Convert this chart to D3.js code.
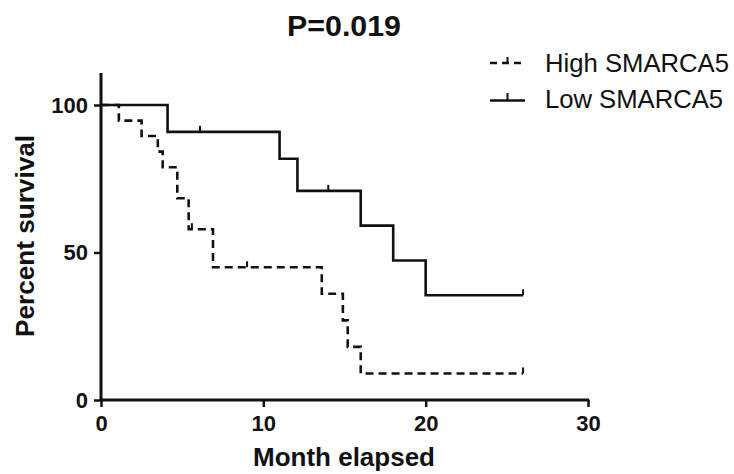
<!DOCTYPE html>
<html>
<head>
<meta charset="utf-8">
<script src="https://cdn.jsdelivr.net/npm/d3@7"></script>
<style>
  html, body { margin: 0; padding: 0; background: #fff; }
  svg { display: block; }
  text { font-family: "Liberation Sans", Arial, sans-serif; fill: #111; }
</style>
</head>
<body>
<svg id="chart" width="734" height="474"></svg>
<script>
// ---- data ----
const title = "P=0.019";
const xTicks = [0, 10, 20, 30];
const yTicks = [0, 50, 100];
const xLabel = "Month elapsed";
const yLabel = "Percent survival";
const seriesNames = ["High SMARCA5", "Low SMARCA5"];

const highTimes = [0, 1.1, 2.5, 3.5, 3.8, 4.7, 5.4, 6.9, 13.6, 14.9, 15.2, 16.0, 26];
const highSurv  = [100, 94.7, 89.5, 84.2, 78.9, 68.4, 57.9, 45.0, 36.0, 27.0, 18.0, 9.0, 9.0];
const highCensorTimes = [5.6, 9.0, 26];
const highCensorSurv  = [57.9, 45.0, 9.0];

const lowTimes = [0, 4.1, 11.0, 12.1, 16.0, 18.0, 20.0, 26];
const lowSurv  = [100, 90.9, 81.8, 70.9, 59.1, 47.3, 35.5, 35.5];
const lowCensorTimes = [6.1, 14.0, 26];
const lowCensorSurv  = [90.9, 70.9, 35.5];

// ---- drawing ----
const svg = d3.select("#chart");
const ink = "#111";
const x = d3.scaleLinear().domain([0, 30]).range([101, 588]);
const y = d3.scaleLinear().domain([0, 100]).range([400, 105]);

// title
svg.append("text").attr("x", 344).attr("y", 36).attr("text-anchor", "middle")
  .style("font-size", "29px").style("font-weight", "bold")
  .attr("textLength", 114).attr("lengthAdjust", "spacingAndGlyphs").text(title);

// axes
const xAxis = d3.axisBottom(x).tickValues(xTicks).tickSize(7).tickPadding(8).tickFormat(d3.format("d"));
const gx = svg.append("g").attr("transform", "translate(0,400)").call(xAxis);
const yAxis = d3.axisLeft(y).tickValues(yTicks).tickSize(7).tickPadding(6).tickFormat(d3.format("d"));
const gy = svg.append("g").attr("transform", "translate(101,0)").call(yAxis);

[gx, gy].forEach(g => {
  g.select(".domain").remove();
  g.selectAll(".tick line").attr("stroke", ink).attr("stroke-width", 2.5);
  g.selectAll(".tick text").attr("fill", ink)
    .style("font-family", "'Liberation Sans', Arial, sans-serif")
    .style("font-size", "22px").style("font-weight", "bold");
});
gx.selectAll(".tick text").attr("dy", "0.71em");

// axis lines
svg.append("line").attr("x1", 101).attr("x2", 101).attr("y1", 73).attr("y2", 401)
  .attr("stroke", ink).attr("stroke-width", 3);
svg.append("line").attr("x1", 100).attr("x2", x(30) + 1.2).attr("y1", 400).attr("y2", 400)
  .attr("stroke", ink).attr("stroke-width", 3);

// axis titles
svg.append("text").attr("x", 344).attr("y", 466).attr("text-anchor", "middle")
  .style("font-size", "25px").style("font-weight", "bold")
  .attr("textLength", 182).attr("lengthAdjust", "spacingAndGlyphs").text(xLabel);
svg.append("text").attr("transform", "translate(34,236) rotate(-90)").attr("text-anchor", "middle")
  .style("font-size", "25px").style("font-weight", "bold")
  .attr("textLength", 202).attr("lengthAdjust", "spacingAndGlyphs").text(yLabel);

// curves
const line = d3.line().x(d => x(d[0])).y(d => y(d[1])).curve(d3.curveStepAfter);
const highPts = highTimes.map((t, i) => [t, highSurv[i]]);
const lowPts = lowTimes.map((t, i) => [t, lowSurv[i]]);

svg.append("path").attr("d", line(lowPts)).attr("fill", "none")
  .attr("stroke", ink).attr("stroke-width", 2.6);
svg.append("path").attr("d", line(highPts)).attr("fill", "none")
  .attr("stroke", ink).attr("stroke-width", 2.6).attr("stroke-dasharray", "8,5");

// censor marks
function censor(times, surv) {
  svg.append("g").selectAll("line").data(times).join("line")
    .attr("x1", d => x(d)).attr("x2", d => x(d))
    .attr("y1", (d, i) => y(surv[i])).attr("y2", (d, i) => y(surv[i]) - 6)
    .attr("stroke", ink).attr("stroke-width", 2);
}
censor(highCensorTimes, highCensorSurv);
censor(lowCensorTimes, lowCensorSurv);

// legend
const lg = svg.append("g");
// High
lg.append("line").attr("x1", 490).attr("x2", 525).attr("y1", 63).attr("y2", 63)
  .attr("stroke", ink).attr("stroke-width", 2.6).attr("stroke-dasharray", "7,5");
lg.append("line").attr("x1", 507.5).attr("x2", 507.5).attr("y1", 63).attr("y2", 57)
  .attr("stroke", ink).attr("stroke-width", 2);
lg.append("text").attr("x", 545).attr("y", 72).style("font-size", "25px")
  .attr("textLength", 184).attr("lengthAdjust", "spacingAndGlyphs").text(seriesNames[0]);
// Low
lg.append("line").attr("x1", 490).attr("x2", 525).attr("y1", 100.5).attr("y2", 100.5)
  .attr("stroke", ink).attr("stroke-width", 2.6);
lg.append("line").attr("x1", 507.5).attr("x2", 507.5).attr("y1", 100.5).attr("y2", 93)
  .attr("stroke", ink).attr("stroke-width", 2);
lg.append("text").attr("x", 545).attr("y", 108).style("font-size", "25px")
  .attr("textLength", 178).attr("lengthAdjust", "spacingAndGlyphs").text(seriesNames[1]);
</script>
</body>
</html>
